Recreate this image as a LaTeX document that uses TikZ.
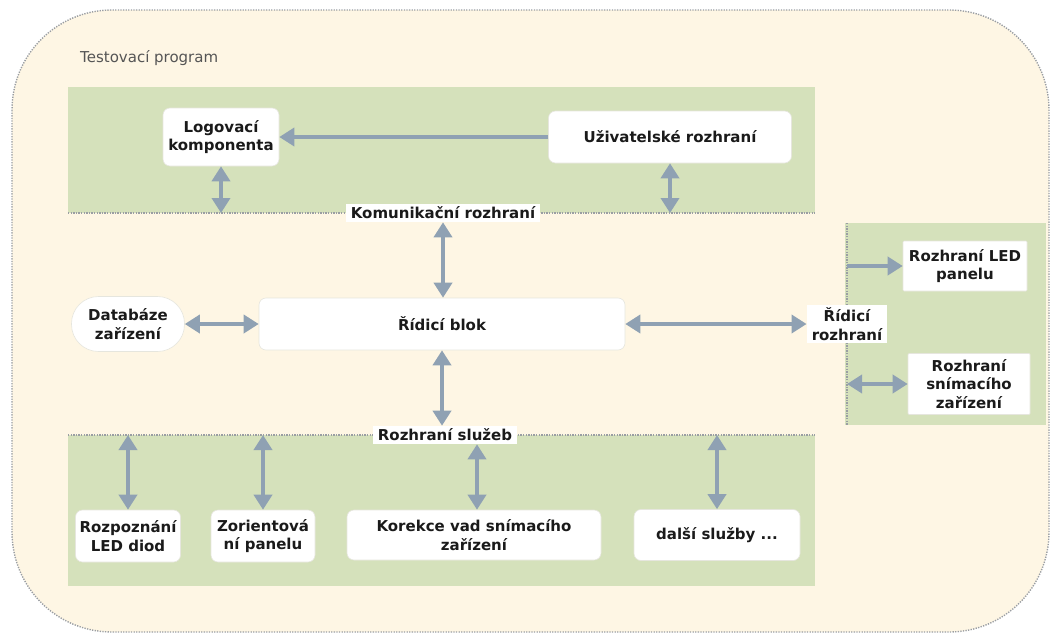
\documentclass[tikz,border=0pt]{standalone}
\usepackage{fontspec}
\setmainfont{DejaVu Sans}
\usetikzlibrary{arrows.meta}
\definecolor{cream}{HTML}{FEF6E4}
\definecolor{panel}{HTML}{D5E1BB}
\definecolor{arrowc}{HTML}{8FA1B3}
\definecolor{dotc}{HTML}{9A9EA3}
\definecolor{boxline}{HTML}{E6E6DE}
\definecolor{txt}{HTML}{1A1A1A}
\definecolor{graytxt}{HTML}{555555}
\begin{document}
\begin{tikzpicture}[x=1pt,y=-1pt,
  box/.style={draw=boxline, line width=0.6pt, fill=white, rounded corners=7pt,
    align=center, inner sep=0pt, text=txt,
    font=\bfseries\fontsize{15}{18.5}\selectfont},
  sqbox/.style={box, rounded corners=1pt},
  lbl/.style={fill=white, inner ysep=3pt, inner xsep=5pt, align=center, text=txt,
    font=\bfseries\fontsize{15}{18.5}\selectfont},
  tip/.tip={Triangle[width=18pt,length=15pt]},
  biarr/.style={draw=arrowc, line width=3.6pt, tip-tip},
  arr/.style={draw=arrowc, line width=3.6pt, -tip},
  dotline/.style={draw=dotc, line width=1.4pt, dash pattern=on 1.3pt off 1.3pt}]
\useasboundingbox (0,0) rectangle (1052,637);

% program frame
\path[fill=cream, dotline, rounded corners=100pt] (12,10) rectangle (1049,632);
\node[anchor=west, inner sep=0pt, text=graytxt, font=\fontsize{15}{18}\selectfont]
  (title) at (80,58) {Testovací program};

% layer panels
\fill[panel] (68,87) rectangle (815,213);
\fill[panel] (68,435) rectangle (815,586);
\fill[panel] (845,223) rectangle (1046,425);
\coordinate (tl) at (68,213);  \coordinate (tr) at (815,213);
\coordinate (bl) at (68,435);  \coordinate (br) at (815,435);
\coordinate (rt) at (847,223); \coordinate (rb) at (847,425);
\draw[dotline] (tl) -- (tr);
\draw[dotline] (bl) -- (br);
\draw[dotline] (rt) -- (rb);

% components
\node[box, minimum width=116pt, minimum height=58pt] (logc) at (221,137) {Logovací\\komponenta};
\node[box, minimum width=243pt, minimum height=52pt] (uziv) at (670,137) {Uživatelské rozhraní};
\node[lbl] (kom) at (443,213) {Komunikační rozhraní};
\node[box, minimum width=366pt, minimum height=52pt] (ridic) at (442,324) {Řídicí blok};
\node[box, minimum width=113pt, minimum height=55pt, rounded corners=27pt] (datab) at (128,324) {Databáze\\zařízení};
\node[lbl] (rrozh) at (847,324) {Řídicí\\rozhraní};
\node[sqbox, minimum width=124pt, minimum height=50pt] (led) at (965,266) {Rozhraní LED\\panelu};
\node[sqbox, minimum width=122pt, minimum height=61pt] (snim) at (969,384) {Rozhraní\\snímacího\\zařízení};
\node[lbl] (sluz) at (445,435) {Rozhraní služeb};
\node[box, minimum width=105pt, minimum height=52pt] (rled) at (128,536) {Rozpoznání\\LED diod};
\node[box, minimum width=104pt, minimum height=52pt] (zor) at (263,536) {Zorientová\\ní panelu};
\node[box, minimum width=254pt, minimum height=50pt] (kor) at (474,535) {Korekce vad snímacího\\zařízení};
\node[box, minimum width=166pt, minimum height=51pt] (dalsi) at (717,535) {další služby ...};

% connectors
\draw[arr] (uziv.west) -- (logc.east);
\draw[biarr] (logc.south) -- (logc.south |- tl);
\draw[biarr] (uziv.south) -- (uziv.south |- tl);
\draw[biarr] (kom.south) -- (kom.south |- ridic.north);
\draw[biarr] (datab.east) -- (ridic.west);
\draw[biarr] (ridic.east) -- (ridic.east -| rrozh.west);
\draw[arr] (rt |- led.west) -- (led.west);
\draw[biarr] (rt |- snim.west) -- (snim.west);
\draw[biarr] (ridic.south) -- (ridic.south |- sluz.north);
\draw[biarr] (rled.north |- bl) -- (rled.north);
\draw[biarr] (zor.north |- bl) -- (zor.north);
\draw[biarr] (sluz.south -| 477,0) -- (kor.north -| 477,0);
\draw[biarr] (dalsi.north |- bl) -- (dalsi.north);
\end{tikzpicture}
\end{document}
